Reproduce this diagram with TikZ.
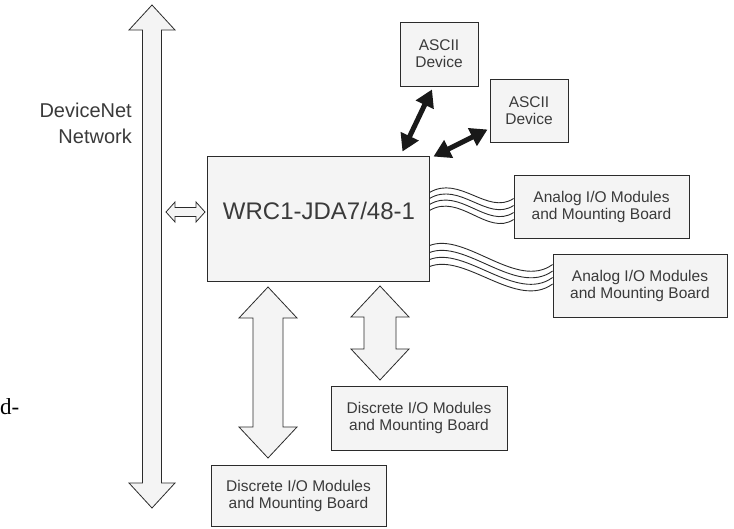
\documentclass[tikz,border=0pt]{standalone}
\usepackage{fontspec}
\setmainfont{Liberation Sans}
\newfontfamily\pageserif{Liberation Serif}
\usetikzlibrary{arrows.meta}
\definecolor{boxfill}{HTML}{F4F4F4}
\definecolor{ink}{HTML}{2B2B2B}
\definecolor{txt}{HTML}{3A3A3A}
\tikzset{
  box/.style={draw=ink, line width=0.9pt, fill=boxfill, inner sep=0pt, text=txt, align=center},
  smalltext/.style={font=\fontsize{15.5}{17}\selectfont},
  blockarrow/.style={draw=ink, line width=0.8pt, fill=boxfill, line join=miter},
  wire/.style={draw=ink, line width=0.9pt},
  asciiarrow/.style={draw=black!90, line width=5pt,
    {Triangle[length=17pt,width=19pt]}-{Triangle[length=17pt,width=19pt]}},
}
% vertical double block arrow: cx, half shaft, half head, tip1, base1, base2, tip2
\newcommand\mydblv[7]{%
  \path[blockarrow] (#1,#4) -- (#1+#3,#5) -- (#1+#2,#5) -- (#1+#2,#6) -- (#1+#3,#6)
    -- (#1,#7) -- (#1-#3,#6) -- (#1-#2,#6) -- (#1-#2,#5) -- (#1-#3,#5) -- cycle;}
% horizontal double block arrow: cy, half shaft, half head, tip1, base1, base2, tip2
\newcommand\mydblh[7]{%
  \path[blockarrow] (#4,#1) -- (#5,#1+#3) -- (#5,#1+#2) -- (#6,#1+#2) -- (#6,#1+#3)
    -- (#7,#1) -- (#6,#1-#3) -- (#6,#1-#2) -- (#5,#1-#2) -- (#5,#1-#3) -- cycle;}
\begin{document}
\begin{tikzpicture}[x=1pt,y=-1pt]
\useasboundingbox (0,0) rectangle (734,529);

% nodes
\node[box, minimum width=222pt, minimum height=125pt] (main) at (318,218.5) {};
\node[text=txt, font=\fontsize{24}{28}\selectfont, inner sep=0pt] (maintext) at (319,210.5) {WRC1-JDA7/48-1};

\node[box, smalltext, minimum width=78pt, minimum height=64pt] (asc1) at (439,54) {ASCII\\Device};
\node[box, smalltext, minimum width=78pt, minimum height=63pt] (asc2) at (529,110.5) {ASCII\\Device};
\node[box, smalltext, minimum width=175pt, minimum height=63pt] (an1) at (601.5,206.5) {Analog I/O Modules\\and Mounting Board};
\node[box, smalltext, minimum width=174pt, minimum height=63pt] (an2) at (640,285.5) {Analog I/O Modules\\and Mounting Board};
\node[box, smalltext, minimum width=176pt, minimum height=64pt] (dis1) at (419,418) {Discrete I/O Modules\\and Mounting Board};
\node[box, smalltext, minimum width=175pt, minimum height=61pt] (dis2) at (298.5,495.5) {Discrete I/O Modules\\and Mounting Board};

\node[text=txt, font=\fontsize{20}{26}\selectfont, align=right, anchor=east, inner sep=0pt] (net) at (132,123) {DeviceNet\\Network};
\node[text=black, font=\pageserif\fontsize{23}{24}\selectfont, anchor=west, inner sep=0pt] (frag) at (0,407) {d-};

% block arrows
\mydblv{152}{9.5}{23}{5}{30}{483}{508}
\mydblv{268}{15}{29}{287}{318}{427}{458}
\mydblv{380}{16}{29}{286}{317}{349}{380}
\mydblh{212}{4.5}{10}{166}{175}{196}{205}

% ASCII device links
\draw[asciiarrow] ([xshift=-27pt,yshift=4pt]main.north east) -- ([xshift=-7pt,yshift=-3pt]asc1.south);
\draw[asciiarrow] ([xshift=4pt,yshift=-1pt]main.north east) -- ([xshift=-2pt,yshift=-19pt]asc2.west);

% wire bundles
\foreach \k in {0,...,3}{
  \draw[wire] ([yshift=-(37+6*\k)*1pt]main.north east) .. controls +(30,-18) and +(-26,17) .. ([yshift=-(24+7*\k)*1pt]an1.north west);
  \draw[wire] ([yshift=-(90+7*\k)*1pt]main.north east) .. controls +(36,-14) and +(-36,26) .. ([yshift=-(11+6.5*\k)*1pt]an2.north west);
}
\end{tikzpicture}
\end{document}
